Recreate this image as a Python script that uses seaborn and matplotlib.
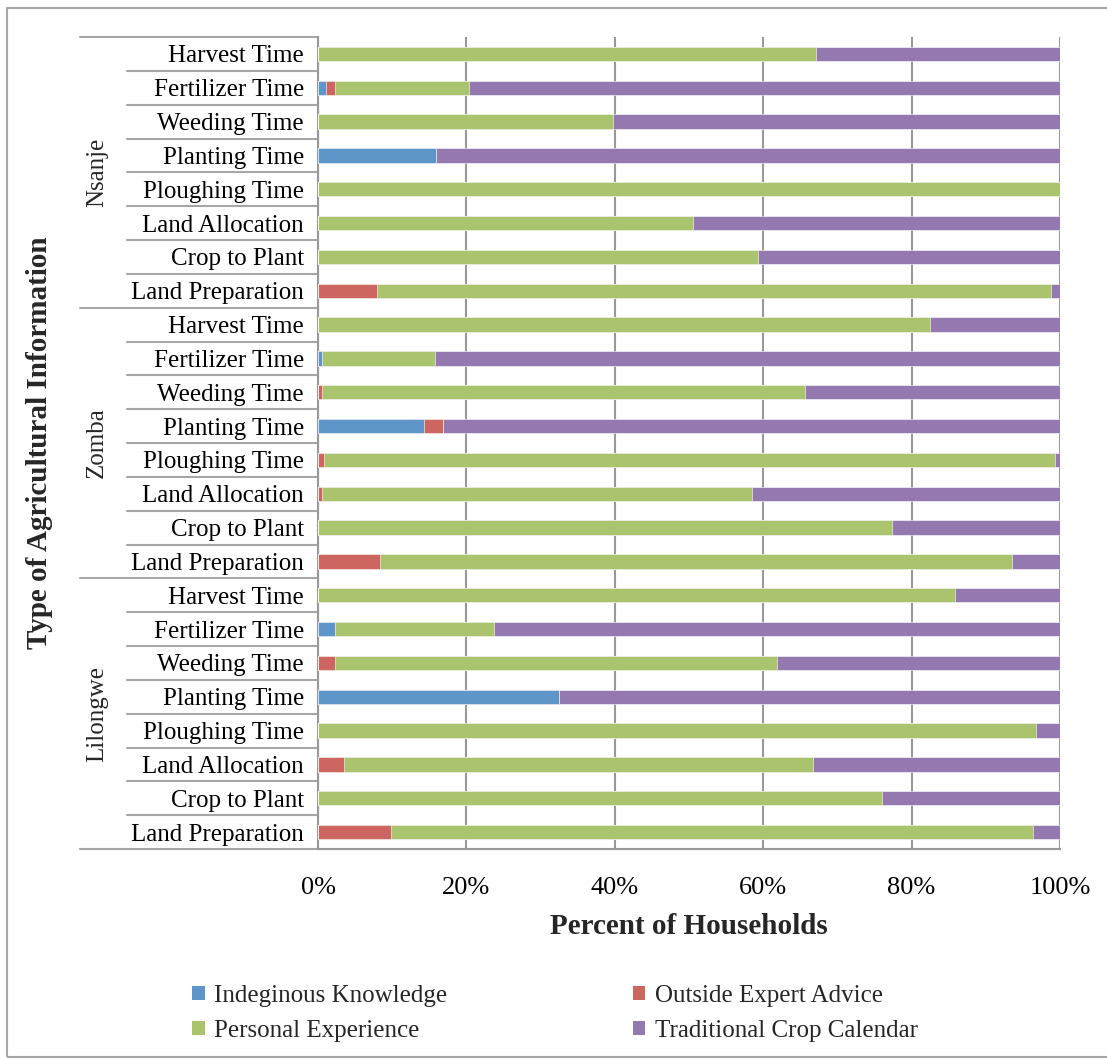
import numpy as np
import pandas as pd
import matplotlib
matplotlib.use("Agg")
import matplotlib.pyplot as plt
import matplotlib.transforms as mtransforms
from matplotlib.patches import Patch, Rectangle
import seaborn as sns

# ---- data (percent of households), listed top to bottom ----
districts = ["Nsanje", "Zomba", "Lilongwe"]
info_types = ["Harvest Time", "Fertilizer Time", "Weeding Time", "Planting Time",
              "Ploughing Time", "Land Allocation", "Crop to Plant", "Land Preparation"]

series_names = ["Indeginous Knowledge", "Outside Expert Advice",
                "Personal Experience", "Traditional Crop Calendar"]

indigenous = [0, 1.1, 0, 15.9, 0, 0, 0, 0,
              0, 0.5, 0, 14.3, 0, 0, 0, 0,
              0, 2.3, 0, 32.5, 0, 0, 0, 0]
expert = [0, 1.2, 0, 0, 0, 0, 0, 8.0,
          0, 0, 0.5, 2.5, 0.8, 0.5, 0, 8.4,
          0, 0, 2.3, 0, 0, 3.5, 0, 9.8]
personal = [67.1, 18.1, 39.8, 0, 100, 50.5, 59.3, 90.8,
            82.5, 15.3, 65.1, 0, 98.5, 58.0, 77.4, 85.1,
            85.8, 21.4, 59.6, 0, 96.8, 63.2, 76.0, 86.6]
traditional = [32.9, 79.6, 60.2, 84.1, 0, 49.5, 40.7, 1.2,
               17.5, 84.2, 34.4, 83.2, 0.7, 41.5, 22.6, 6.5,
               14.2, 76.3, 38.1, 67.5, 3.2, 33.3, 24.0, 3.6]

colors = ["#5F96CA", "#CD6560", "#A9C46C", "#9479B0"]

# ---- table of cumulative ends for each stacked segment ----
rows = [f"{d}|{t}" for d in districts for t in info_types]
df = pd.DataFrame({"row": rows,
                   "ind": indigenous, "exp": expert,
                   "per": personal, "tra": traditional})
df["c1"] = df["ind"]
df["c2"] = df["c1"] + df["exp"]
df["c3"] = df["c2"] + df["per"]
df["c4"] = df["c3"] + df["tra"]

sns.set_theme(style="white")
plt.rcParams["font.family"] = ["Liberation Serif", "DejaVu Serif"]

W, H = 1107, 1059
fig = plt.figure(figsize=(W / 100, H / 100), dpi=100)
ax = fig.add_axes([318 / W, 1 - 849 / H, (1060 - 318) / W, (849 - 37) / H])

# draw the longest cumulative first so shorter segments sit on top
for col, c in zip(["c4", "c3", "c2", "c1"], colors[::-1]):
    sns.barplot(data=df, x=col, y="row", order=rows, orient="h", color=c,
                saturation=1, width=0.42, ax=ax, edgecolor="white",
                linewidth=0.4, zorder=3)

ax.set_xlim(0, 100)
ax.set_ylim(len(rows) - 0.5, -0.5)
ax.set_xticks([0, 20, 40, 60, 80, 100])
ax.set_xticklabels([f"{v}%" for v in [0, 20, 40, 60, 80, 100]], fontsize=19)
ax.set_yticks(range(len(rows)))
ax.set_yticklabels([r.split("|")[1] for r in rows], fontsize=18)
ax.set_xlabel("")
ax.set_ylabel("")
ax.tick_params(axis="y", length=0, pad=10, colors="black")
ax.tick_params(axis="x", length=5, width=1.2, color="#999999", pad=15,
               direction="out", labelcolor="black")

ax.set_axisbelow(True)
ax.grid(axis="x", color="#999999", linewidth=1.5)
ax.grid(axis="y", visible=False)
for s in ["top", "right"]:
    ax.spines[s].set_visible(False)
for s in ["left", "bottom"]:
    ax.spines[s].set_color("#999999")
    ax.spines[s].set_linewidth(1.5)

# hierarchical category axis: separator lines and district names
trans = mtransforms.blended_transform_factory(ax.transAxes, ax.transData)
x_long = (80 - 318) / (1060 - 318)
x_short = (127 - 318) / (1060 - 318)
n = len(info_types)
for k in range(len(rows) + 1):
    y = k - 0.5
    x0 = x_long if k % n == 0 else x_short
    ax.plot([x0, 0], [y, y], transform=trans, color="#A6A6A6",
            linewidth=1.5, clip_on=False, zorder=1)
x_dist = (97 - 318) / (1060 - 318)
for i, d in enumerate(districts):
    ax.text(x_dist, i * n + (n - 1) / 2, d, transform=trans, rotation=90,
            ha="center", va="center", fontsize=18)

fig.text(40 / W, 1 - 443 / H, "Type of Agricultural Information", rotation=90,
         ha="center", va="center", fontsize=21, fontweight="bold")
fig.text(689 / W, 1 - 927 / H, "Percent of Households",
         ha="center", va="center", fontsize=21, fontweight="bold")

# legend: two columns, filled column-first
handles = [Patch(facecolor=c, edgecolor="none") for c in colors]
order = [0, 2, 1, 3]
fig.legend([handles[i] for i in order], [series_names[i] for i in order],
           ncol=2, loc="upper left", bbox_to_anchor=(192 / W, 1 - 985 / H),
           frameon=False, fontsize=18, handlelength=0.5, handleheight=0.5,
           handletextpad=0.4, columnspacing=7.4, labelspacing=0.52,
           borderpad=0, borderaxespad=0)

# outer chart border
fig.add_artist(Rectangle((7 / W, 2 / H), (W + 5 - 7) / W, (H - 10) / H,
                         transform=fig.transFigure, fill=False,
                         edgecolor="#A6A6A6", linewidth=1.5))

fig.savefig("out.png", dpi=100)
